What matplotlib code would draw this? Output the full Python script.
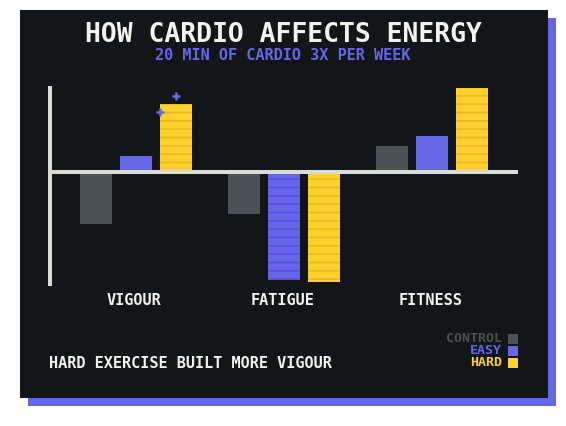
import matplotlib
matplotlib.use("Agg")
import matplotlib.pyplot as plt
from matplotlib.patches import Rectangle
import numpy as np

# ---- data ----
categories = ["VIGOUR", "FATIGUE", "FITNESS"]
series_names = ["CONTROL", "EASY", "HARD"]
control = [-0.52, -0.42, 0.26]
easy = [0.16, -1.08, 0.36]
hard = [0.68, -1.10, 0.84]
textured_easy = [False, True, False]
textured_hard = [True, True, True]
title = "HOW CARDIO AFFECTS ENERGY"
subtitle = "20 MIN OF CARDIO 3X PER WEEK"
note = "HARD EXERCISE BUILT MORE VIGOUR"

# ---- style ----
BG = "#121619"
C_CONTROL = "#4a5157"
C_EASY = "#6468e6"
C_HARD = "#ffd12e"
C_EASY_DARK = "#5a4ce8"
C_HARD_DARK = "#e9b825"
AXIS = "#dcdcd6"
WHITE = "#f2f2ee"
FONT = "DejaVu Sans Mono"

W, H = 566, 426
fig = plt.figure(figsize=(W / 100, H / 100), dpi=100)
fig.patch.set_facecolor("white")

def px_rect(x0, y0, x1, y1, color, z):
    fig.patches.append(Rectangle((x0 / W, 1 - y1 / H), (x1 - x0) / W, (y1 - y0) / H,
                                 transform=fig.transFigure, facecolor=color,
                                 edgecolor="none", zorder=z))

# shadow and panel
px_rect(28, 18, 556, 406, C_EASY, 0)
px_rect(20, 10, 548, 398, BG, 1)

# chart axes: x 50..518 px, y 88..284 px
ax = fig.add_axes([50 / W, 1 - 284 / H, 468 / W, 196 / H])
ax.set_zorder(5)
ax.set_facecolor("none")
ax.set_xlim(-0.581, 2.581)
ax.set_ylim(-1.12, 0.84)
for s in ["top", "right", "bottom"]:
    ax.spines[s].set_visible(False)
ax.spines["left"].set_color(AXIS)
ax.spines["left"].set_linewidth(2.9)
ax.set_xticks([])
ax.set_yticks([])

x = np.arange(len(categories))
step = 40 / 148
width = 32 / 148

plt.rcParams["hatch.linewidth"] = 1.2

ax.bar(x - step, control, width, color=C_CONTROL, zorder=2)
for i in range(len(categories)):
    ax.bar(x[i], easy[i], width, color=C_EASY, zorder=2,
           hatch="--" if textured_easy[i] else None,
           edgecolor=C_EASY_DARK if textured_easy[i] else "none", linewidth=0)
    ax.bar(x[i] + step, hard[i], width, color=C_HARD, zorder=2,
           hatch="--" if textured_hard[i] else None,
           edgecolor=C_HARD_DARK if textured_hard[i] else "none", linewidth=0)

# zero line
ax.axhline(0, color=AXIS, lw=2.9, zorder=3, xmin=0.008)

# sparkles near the top of the hard vigour bar
ax.scatter([x[0] + step, x[0] + step - width / 2],
           [hard[0] + 0.075, hard[0] - 0.085],
           marker="+", s=40, linewidths=1.8, color=C_EASY, zorder=4, clip_on=False)

# category labels
for i, c in enumerate(categories):
    ax.text(x[i] - 0.012, -1.285, c, ha="center", va="center", color=WHITE,
            fontsize=11, fontfamily=FONT, fontweight="bold", clip_on=False)

# title / subtitle
fig.text(283 / W, 1 - 35 / H, title, ha="center", va="center", color=WHITE,
         fontsize=19, fontfamily=FONT, fontweight="bold", zorder=6)
fig.text(283 / W, 1 - 55 / H, subtitle, ha="center", va="center", color=C_EASY,
         fontsize=11, fontfamily=FONT, fontweight="bold", zorder=6)

# note
fig.text(49 / W, 1 - 363 / H, note, ha="left", va="center", color=WHITE,
         fontsize=11, fontfamily=FONT, fontweight="bold", zorder=6)

# legend
leg_colors = [C_CONTROL, C_EASY, C_HARD]
for j, (name, col) in enumerate(zip(series_names, leg_colors)):
    yc = 339 + 12 * j
    fig.text(502 / W, 1 - yc / H, name, ha="right", va="center", color=col,
             fontsize=9.5, fontfamily=FONT, fontweight="bold", zorder=6)
    px_rect(508, yc - 5, 518, yc + 5, col, 6)

fig.savefig("out.png", dpi=100, facecolor=fig.get_facecolor())
